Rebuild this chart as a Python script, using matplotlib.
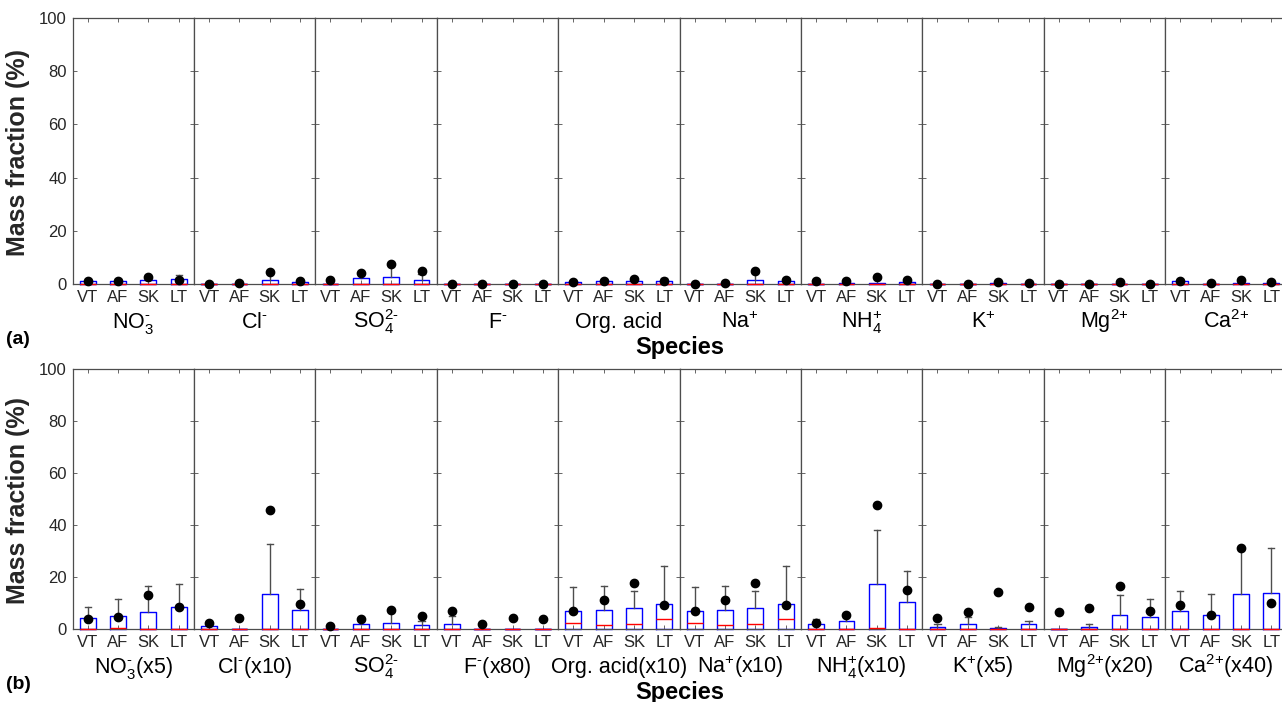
import matplotlib
matplotlib.use('Agg')
import matplotlib.pyplot as plt

plt.rcParams['font.family'] = ['Liberation Sans', 'DejaVu Sans']
plt.rcParams['mathtext.fontset'] = 'custom'
plt.rcParams['mathtext.rm'] = 'Liberation Sans'
plt.rcParams['mathtext.it'] = 'Liberation Sans:italic'
plt.rcParams['mathtext.bf'] = 'Liberation Sans:bold'

sites = ['VT', 'AF', 'SK', 'LT']

species_a = [r'$\mathrm{NO}_3^{\text{-}}$', r'$\mathrm{Cl}^{\text{-}}$', r'$\mathrm{SO}_4^{\text{2-}}$',
             r'$\mathrm{F}^{\text{-}}$', 'Org. acid', r'$\mathrm{Na}^{\text{+}}$',
             r'$\mathrm{NH}_4^{\text{+}}$', r'$\mathrm{K}^{\text{+}}$', r'$\mathrm{Mg}^{\text{2+}}$',
             r'$\mathrm{Ca}^{\text{2+}}$']
species_b = [r'$\mathrm{NO}_3^{\text{-}}$(x5)', r'$\mathrm{Cl}^{\text{-}}$(x10)',
             r'$\mathrm{SO}_4^{\text{2-}}$', r'$\mathrm{F}^{\text{-}}$(x80)', 'Org. acid(x10)',
             r'$\mathrm{Na}^{\text{+}}$(x10)', r'$\mathrm{NH}_4^{\text{+}}$(x10)',
             r'$\mathrm{K}^{\text{+}}$(x5)', r'$\mathrm{Mg}^{\text{2+}}$(x20)',
             r'$\mathrm{Ca}^{\text{2+}}$(x40)']

# panel (a): upper quartile (box top), upper whisker, mean, median
box_a = [[1.1, 1.1, 1.4, 1.75], [0, 0, 1.4, 0.75], [0, 2.1, 2.5, 1.6], [0, 0, 0, 0],
         [0.9, 1.0, 1.0, 1.25], [0, 0, 1.6, 1.0], [0, 0.4, 0.2, 0.6], [0, 0, 0.25, 0],
         [0, 0, 0, 0], [1.0, 0, 0.5, 0.4]]
whisk_a = [[1.1, 2.0, 1.4, 3.25], [0, 0, 4.5, 0.75], [0, 4.25, 7.4, 3.9], [0, 0, 0, 0],
           [0.9, 1.0, 1.0, 2.25], [0, 0, 4.0, 1.0], [0, 0.4, 0.2, 0.6], [0, 0, 0.25, 0],
           [0, 0, 0, 0], [1.75, 0, 0.5, 0.4]]
mean_a = [[1.0, 1.1, 2.6, 1.5], [0.0, 0.25, 4.5, 1.0], [1.5, 4.25, 7.4, 5.0], [0.1, 0.1, 0.1, 0.1],
          [0.75, 1.1, 1.9, 1.0], [0.0, 0.5, 4.75, 1.5], [1.0, 1.1, 2.6, 1.5], [0.0, 0.1, 0.75, 0.25],
          [0.0, 0.0, 0.75, 0.1], [1.0, 0.25, 1.4, 0.6]]
med_a = [[0, 0, 0, 0] for _ in range(10)]

# panel (b): scaled values
box_b = [[4.1, 4.9, 6.5, 8.6], [1.0, 0, 13.3, 7.3], [0, 2.0, 2.4, 1.5], [2.0, 0, 0, 0],
         [6.9, 7.2, 8.2, 9.7], [6.9, 7.2, 8.2, 9.7], [1.8, 3.1, 17.4, 10.3], [0.7, 1.8, 0.4, 1.9],
         [0, 0.6, 5.3, 4.6], [6.9, 5.4, 13.3, 13.7]]
whisk_b = [[8.6, 11.4, 16.5, 17.4], [1.0, 0, 32.8, 15.3], [0, 3.5, 6.5, 3.2], [5.0, 0, 0, 0],
           [16.0, 16.7, 14.6, 24.4], [16.0, 16.7, 14.6, 24.4], [3.7, 6.0, 38.1, 22.4],
           [1.9, 4.7, 0.9, 3.2], [0, 1.9, 13.2, 11.4], [14.8, 13.6, 31.2, 31.2]]
mean_b = [[3.7, 4.7, 13.1, 8.6], [2.4, 4.2, 45.8, 9.7], [1.3, 4.0, 7.3, 5.0], [7.0, 2.0, 4.4, 4.0],
          [6.9, 11.2, 17.8, 9.2], [6.9, 11.2, 17.8, 9.2], [2.4, 5.3, 47.8, 15.0],
          [4.2, 6.4, 14.1, 8.5], [6.6, 8.0, 16.4, 6.9], [9.2, 5.4, 31.2, 10.1]]
med_b = [[0, 0.5, 0, 0], [0, 0, 0, 0], [0, 0, 0, 0], [0, 0, 0, 0],
         [2.2, 1.5, 1.8, 3.7], [2.2, 1.5, 1.8, 3.7], [0, 0, 0.3, 0],
         [0, 0, 0, 0], [0, 0, 0, 0], [0, 0, 0, 0]]

yticks = [0, 20, 40, 60, 80, 100]

W, H = 1282, 702
fig = plt.figure(figsize=(W / 100, H / 100), dpi=100)


def fx(px):
    return px / W


def fy(py):
    return 1 - py / H


LEFT = 72.5
PW = 121.4
TXT = '0.15'


def draw_panel(top, bottom, names, box, whisk, mean, med, tag):
    for i in range(10):
        ax = fig.add_axes([fx(LEFT + i * PW), fy(bottom), PW / W, (bottom - top) / H])
        stats = []
        for j in range(4):
            stats.append(dict(med=med[i][j], q1=0.0, q3=box[i][j], whislo=0.0,
                              whishi=max(whisk[i][j], box[i][j]), mean=mean[i][j], fliers=[]))
        res = ax.bxp(stats, positions=[1, 2, 3, 4], widths=0.52, capwidths=0.2,
                     showmeans=True, manage_ticks=False,
                     boxprops=dict(color='blue', lw=1.0),
                     medianprops=dict(color='red', lw=1.0),
                     whiskerprops=dict(color='0.3', lw=1.0, linestyle='-'),
                     capprops=dict(color='0.3', lw=1.0),
                     meanprops=dict(marker='o', markerfacecolor='black',
                                    markeredgecolor='black', markersize=6))
        for j in range(4):
            res['whiskers'][2 * j].set_visible(False)
            res['caps'][2 * j].set_visible(False)
            if whisk[i][j] <= box[i][j]:
                res['caps'][2 * j + 1].set_visible(False)
                res['whiskers'][2 * j + 1].set_visible(False)
        for key in ('boxes', 'medians', 'whiskers', 'caps', 'means'):
            for art in res[key]:
                art.set_clip_on(False)
        for art in res['means']:
            art.set_zorder(5)
        for art in res['medians']:
            art.set_zorder(4)
        ax.set_xlim(0.5, 4.5)
        ax.set_ylim(0, 100)
        ax.set_xticks([1, 2, 3, 4])
        ax.set_xticklabels(sites)
        ax.set_yticks(yticks)
        if i == 0:
            ax.set_yticklabels([str(v) for v in yticks])
        else:
            ax.set_yticklabels([])
        ax.tick_params(direction='in', top=True, right=True, length=3, width=0.6,
                       color='0.3', labelcolor=TXT, labelsize=12, pad=4)
        ax.tick_params(axis='x', pad=4)
        for s in ax.spines.values():
            s.set_color('0.3')
            s.set_linewidth(0.9)
        fig.text(fx(LEFT + (i + 0.5) * PW), fy(bottom + 44), names[i], ha='center',
                 va='baseline', fontsize=15.5, color='black')
    fig.text(fx(18), fy((top + bottom) / 2 + 2), 'Mass fraction (%)', rotation=90, ha='center',
             va='center', fontsize=18, fontweight='bold', color=TXT)
    fig.text(fx(LEFT + 5 * PW), fy(bottom + 70), 'Species', ha='center', va='baseline',
             fontsize=17, fontweight='bold', color='black')
    fig.text(fx(6), fy(bottom + 60), tag, ha='left', va='baseline', fontsize=14,
             fontweight='bold', color='black')


draw_panel(18, 284, species_a, box_a, whisk_a, mean_a, med_a, '(a)')
draw_panel(369, 629, species_b, box_b, whisk_b, mean_b, med_b, '(b)')

fig.savefig('out.png', dpi=100)
